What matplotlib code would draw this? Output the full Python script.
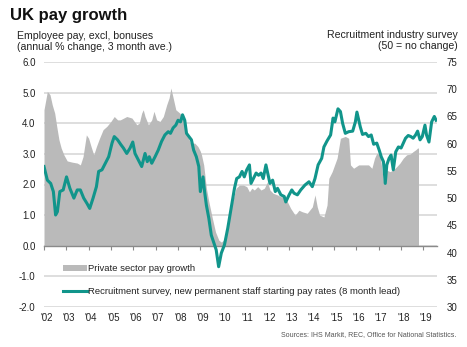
import matplotlib
matplotlib.use('Agg')
import matplotlib.pyplot as plt
from matplotlib.transforms import ScaledTranslation
from matplotlib.patches import Patch
from matplotlib.lines import Line2D

plt.rcParams['font.family'] = ['Liberation Sans', 'DejaVu Sans']

title = "UK pay growth"
left_label = "Employee pay, excl, bonuses\n(annual % change, 3 month ave.)"
right_label = "Recruitment industry survey\n(50 = no change)"
pay_label = "Private sector pay growth"
rec_label = "Recruitment survey, new permanent staff starting pay rates (8 month lead)"
source = "Sources: IHS Markit, REC, Office for National Statistics."

years = list(range(2002, 2020))
year_labels = ["'%02d" % (y % 100) for y in years]
left_ticks = [-2, -1, 0, 1, 2, 3, 4, 5, 6]
right_ticks = [30, 35, 40, 45, 50, 55, 60, 65, 70, 75]

# Private sector pay growth (annual %, 3m ave), left axis
pay_years = [2002.00, 2002.15, 2002.27, 2002.37, 2002.48, 2002.57, 2002.67, 2002.77, 2002.89,
             2003.04, 2003.26, 2003.49, 2003.63, 2003.75, 2003.90, 2004.00, 2004.11, 2004.23,
             2004.35, 2004.49, 2004.65, 2004.82, 2005.00, 2005.15, 2005.30, 2005.42, 2005.71,
             2005.94, 2006.16, 2006.27, 2006.38, 2006.45, 2006.53, 2006.68, 2006.83, 2006.93,
             2007.05, 2007.20, 2007.35, 2007.50, 2007.61, 2007.69, 2007.79, 2007.91, 2008.09,
             2008.27, 2008.39, 2008.57, 2008.76, 2008.90, 2009.00, 2009.06, 2009.16, 2009.28,
             2009.39, 2009.55, 2009.69, 2009.84, 2009.95, 2010.05, 2010.17, 2010.29, 2010.39,
             2010.49, 2010.61, 2010.76, 2010.94, 2011.09, 2011.21, 2011.32, 2011.43, 2011.58,
             2011.73, 2011.88, 2012.02, 2012.13, 2012.28, 2012.47, 2012.62, 2012.80, 2012.91,
             2013.06, 2013.26, 2013.43, 2013.58, 2013.80, 2014.03, 2014.15, 2014.25, 2014.36,
             2014.55, 2014.69, 2014.77, 2014.92, 2015.14, 2015.29, 2015.51, 2015.66, 2015.74,
             2015.88, 2016.11, 2016.25, 2016.55, 2016.70, 2016.82, 2016.92, 2017.07, 2017.22,
             2017.32, 2017.52, 2017.66, 2017.81, 2017.96, 2018.11, 2018.26, 2018.41, 2018.56,
             2018.66, 2018.75, 2018.79]
pay_vals = [4.44, 5.04, 4.93, 4.60, 4.33, 3.90, 3.46, 3.19, 2.97,
            2.77, 2.73, 2.70, 2.64, 2.91, 3.62, 3.51, 3.24, 2.97,
            3.24, 3.51, 3.79, 3.90, 4.06, 4.22, 4.11, 4.11, 4.22,
            4.17, 3.95, 4.00, 4.33, 4.44, 4.22, 3.95, 4.11, 4.39,
            4.11, 4.06, 4.22, 4.60, 4.83, 5.15, 4.83, 4.44, 4.33,
            4.11, 3.68, 3.35, 3.35, 3.24, 3.10, 2.97, 2.64, 1.88,
            1.44, 0.89, 0.45, 0.18, 0.12, 0.18, 0.45, 0.78, 1.22,
            1.55, 1.88, 1.98, 1.98, 1.93, 1.76, 1.88, 1.82, 1.93,
            1.82, 1.88, 2.09, 1.82, 1.71, 1.66, 1.60, 1.60, 1.44,
            1.22, 1.00, 1.16, 1.11, 1.06, 1.27, 1.66, 1.27, 1.00,
            0.94, 1.33, 2.20, 2.42, 2.86, 3.51, 3.57, 3.51, 2.64,
            2.53, 2.64, 2.64, 2.64, 2.53, 2.86, 3.02, 2.97, 2.09,
            2.48, 2.42, 2.48, 2.58, 2.70, 2.86, 2.97, 2.99, 3.08,
            3.13, 3.19, 3.19]

# Recruitment survey, new permanent staff starting pay (8 month lead), right axis
rec_years = [2002.00, 2002.15, 2002.30, 2002.42, 2002.52, 2002.60, 2002.71, 2002.86, 2003.01,
             2003.16, 2003.34, 2003.49, 2003.63, 2003.78, 2003.93, 2004.05, 2004.20, 2004.35,
             2004.45, 2004.60, 2004.75, 2004.90, 2005.05, 2005.15, 2005.30, 2005.45, 2005.56,
             2005.71, 2005.86, 2005.98, 2006.08, 2006.23, 2006.38, 2006.53, 2006.63, 2006.72,
             2006.83, 2006.98, 2007.12, 2007.27, 2007.42, 2007.57, 2007.67, 2007.79, 2007.91,
             2008.01, 2008.12, 2008.21, 2008.31, 2008.39, 2008.50, 2008.61, 2008.71, 2008.83,
             2008.94, 2009.01, 2009.13, 2009.20, 2009.28, 2009.39, 2009.50, 2009.60, 2009.72,
             2009.83, 2009.95, 2010.09, 2010.24, 2010.39, 2010.54, 2010.64, 2010.76, 2010.88,
             2010.98, 2011.09, 2011.21, 2011.28, 2011.39, 2011.51, 2011.62, 2011.73, 2011.83,
             2011.95, 2012.05, 2012.13, 2012.25, 2012.37, 2012.47, 2012.62, 2012.77, 2012.84,
             2012.99, 2013.11, 2013.21, 2013.36, 2013.51, 2013.70, 2013.88, 2014.03, 2014.15,
             2014.29, 2014.45, 2014.55, 2014.69, 2014.85, 2014.96, 2015.04, 2015.18, 2015.29,
             2015.39, 2015.51, 2015.66, 2015.84, 2015.96, 2016.03, 2016.18, 2016.28, 2016.43,
             2016.55, 2016.67, 2016.78, 2016.92, 2017.03, 2017.12, 2017.22, 2017.30, 2017.37,
             2017.47, 2017.56, 2017.66, 2017.77, 2017.89, 2018.01, 2018.11, 2018.21, 2018.33,
             2018.45, 2018.55, 2018.66, 2018.75, 2018.86, 2018.96, 2019.08, 2019.15, 2019.26,
             2019.38, 2019.50, 2019.58]
rec_vals = [55.8, 53.3, 52.7, 51.2, 46.9, 47.5, 51.2, 51.5, 53.9,
            51.8, 50.0, 51.5, 51.5, 50.0, 49.0, 48.1, 50.0, 52.1,
            54.9, 55.2, 56.4, 57.6, 60.1, 61.3, 60.7, 59.8, 59.2,
            58.2, 59.2, 60.3, 58.2, 57.0, 55.8, 58.2, 56.7, 57.6,
            56.4, 57.6, 58.8, 60.4, 61.6, 62.2, 61.9, 62.9, 63.4,
            64.3, 64.0, 65.3, 64.3, 61.9, 61.3, 60.7, 58.8, 57.6,
            55.8, 51.2, 53.9, 51.2, 48.7, 46.3, 43.2, 42.0, 40.5,
            37.4, 39.9, 41.4, 44.5, 48.1, 51.8, 53.6, 53.9, 54.9,
            53.9, 55.2, 56.1, 52.7, 53.6, 54.6, 54.2, 54.6, 53.6,
            56.1, 54.2, 52.7, 53.3, 51.2, 51.8, 50.6, 50.3, 49.3,
            50.6, 51.5, 50.9, 50.6, 51.5, 52.4, 53.0, 52.1, 53.6,
            56.1, 57.3, 59.4, 60.5, 61.6, 64.7, 64.0, 66.4, 65.9,
            63.7, 61.9, 62.2, 62.3, 64.0, 65.8, 63.1, 61.7, 61.9,
            61.3, 61.6, 59.9, 60.1, 58.8, 57.6, 56.7, 52.7, 56.1,
            57.3, 57.9, 55.2, 58.5, 59.4, 59.2, 60.1, 61.0, 61.5,
            61.3, 61.0, 61.6, 62.3, 60.7, 61.3, 63.4, 61.6, 60.3,
            64.0, 65.0, 64.3]

W, H = 467, 347
fig = plt.figure(figsize=(W / 100, H / 100), dpi=100)
ax = fig.add_axes([44 / W, 1 - 307 / H, 393 / W, 245 / H])

gray = '#bababa'
teal = '#11958b'
grid_c = '#d4d4d4'
txt_c = '#222222'

ax.fill_between(pay_years, pay_vals, 0, color=gray, lw=0, zorder=1.5)
ax.set_xlim(2002, 2019.62)
ax.set_ylim(-2, 6)
ax.set_yticks(left_ticks, labels=['%.1f' % v for v in left_ticks])
ax.set_axisbelow(True)
ax.yaxis.grid(True, color=grid_c, lw=1.1)
for s in ['top', 'right', 'left']:
    ax.spines[s].set_visible(False)
ax.spines['bottom'].set_position(('data', 0))
ax.spines['bottom'].set_color('#8a8a8a')
ax.spines['bottom'].set_linewidth(1.0)
ax.spines['bottom'].set_zorder(2.5)
ax.set_xticks(years)
ax.tick_params(axis='x', direction='out', length=3, width=0.8, color='#8a8a8a', labelbottom=False)
ax.tick_params(axis='y', length=0, pad=6, labelsize=7, labelcolor=txt_c)

sec = ax.secondary_xaxis('bottom')
sec.set_xticks(years, labels=year_labels)
sec.tick_params(length=0, pad=4, labelsize=7, labelcolor=txt_c)
sec.spines['bottom'].set_visible(False)
off = ScaledTranslation(2.5 / 100, 0, fig.dpi_scale_trans)
for lab in sec.get_xticklabels():
    lab.set_transform(lab.get_transform() + off)

ax2 = ax.twinx()
ax2.plot(rec_years, rec_vals, color=teal, lw=2.2, solid_joinstyle='round', zorder=3)
ax2.set_ylim(30, 75)
ax2.set_yticks(right_ticks)
ax2.tick_params(axis='y', length=0, pad=7, labelsize=7, labelcolor=txt_c)
for s in ax2.spines.values():
    s.set_visible(False)

fig.text(10 / W, 1 - 20 / H, title, fontsize=12, fontweight='bold', color='#111111', va='baseline')
fig.text(17 / W, 1 - 31 / H, left_label, fontsize=7.6, color=txt_c, va='top', ha='left', linespacing=1.12)
fig.text(458 / W, 1 - 30 / H, right_label, fontsize=7.6, color=txt_c, va='top', ha='right',
         multialignment='right', linespacing=1.12)
fig.text(456 / W, 1 - 335 / H, source, fontsize=5, color='#555555', va='center', ha='right')

handles = [Patch(facecolor=gray, edgecolor='none'), Line2D([], [], color=teal, lw=2.2)]
fig.legend(handles, [pay_label, rec_label], loc='upper left', bbox_to_anchor=(63 / W, 1 - 264 / H),
           frameon=False, fontsize=6.8, handlelength=2.5, handleheight=0.6, handletextpad=0.1,
           labelspacing=1.45, borderpad=0, borderaxespad=0, labelcolor=txt_c)

fig.savefig('out.png', dpi=100)
